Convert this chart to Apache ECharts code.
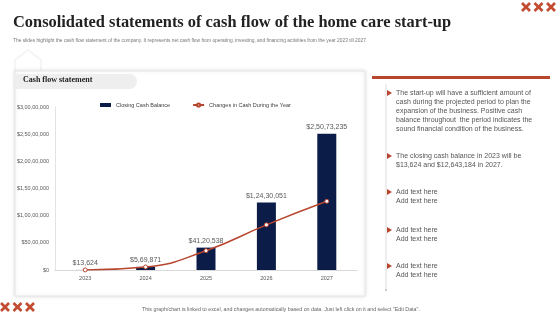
<!DOCTYPE html>
<html>
<head>
<meta charset="utf-8">
<script src="https://cdn.jsdelivr.net/npm/echarts@6/dist/echarts.min.js"></script>
<style>
  html, body { margin: 0; padding: 0; background: #fff; }
  #chart { width: 560px; height: 315px; }
</style>
</head>
<body>
<div id="chart"></div>
<script>
// chart data
const years = ['2023', '2024', '2025', '2026', '2027']
const closingBalance = [13624, 569871, 4120538, 12430051, 25073235]
const changesInCash = [13624, 556247, 3550667, 8309513, 12643184]

const bullets = [
  ['The start-up will have a sufficient amount of', 'cash during the projected period to plan the', 'expansion of the business. Positive cash', 'balance throughout  the period indicates the', 'sound financial condition of the business.'],
  ['The closing cash balance in 2023 will be', '$13,624 and $12,643,184 in 2027.'],
  ['Add text here', 'Add text here'],
  ['Add text here', 'Add text here'],
  ['Add text here', 'Add text here']
]
const bulletTops = [93, 156, 192, 230, 266]

const red = '#b8452e'
const navy = '#0b1c48'

// indian style grouping: 2,50,73,235
function inr(v) {
  const s = String(Math.round(v))
  if (s.length <= 3) return '$' + s
  const last = s.slice(-3)
  let rest = s.slice(0, -3)
  const parts = []
  while (rest.length > 2) {
    parts.unshift(rest.slice(-2))
    rest = rest.slice(0, -2)
  }
  if (rest) parts.unshift(rest)
  return '$' + parts.join(',') + ',' + last
}

// three red crosses, drawn as strokes
function crosses(x, y) {
  const out = []
  for (let i = 0; i < 3; i++) {
    const cx = x + i * 12.5
    const s = 4
    out.push(
      { type: 'line', shape: { x1: cx - s, y1: y - s, x2: cx + s, y2: y + s }, style: { stroke: '#c24b31', lineWidth: 2.6 } },
      { type: 'line', shape: { x1: cx - s, y1: y + s, x2: cx + s, y2: y - s }, style: { stroke: '#c24b31', lineWidth: 2.6 } }
    )
  }
  return out
}

const graphics = [
  // faint house outline behind the tab
  {
    type: 'polyline', shape: { points: [[15, 72], [15, 60], [28, 50], [41, 60], [41, 72]] },
    style: { stroke: '#f5f5f5', lineWidth: 2, fill: 'none' }, z: -20
  },
  // chart panel
  {
    type: 'rect', shape: { x: 15, y: 71, width: 350, height: 225 },
    style: { fill: '#fff', stroke: '#e6e6e6', lineWidth: 1, shadowBlur: 4, shadowColor: 'rgba(0,0,0,0.12)' },
    z: -10
  },
  {
    type: 'rect', shape: { x: 15, y: 74, width: 122, height: 15, r: [0, 8, 8, 0] },
    style: { fill: '#eeeeee' }, z: -5
  },
  {
    type: 'text', left: 23, top: 76,
    style: { text: 'Cash flow statement', fill: '#222', font: 'bold 8px "Liberation Serif"' }
  },
  // right panel
  { type: 'rect', shape: { x: 372, y: 76, width: 178, height: 3 }, style: { fill: red } },
  { type: 'line', shape: { x1: 386, y1: 84, x2: 386, y2: 290 }, style: { stroke: '#dcdcdc', lineWidth: 1 } },
  { type: 'circle', shape: { cx: 386, cy: 290, r: 1.2 }, style: { fill: '#cfcfcf' } },
  // footer
  {
    type: 'text', left: 142, top: 307,
    style: { text: 'This graph/chart is linked to excel, and changes automatically based on data. Just left click on it and select "Edit Data".', fill: '#666', font: '5.3px "Liberation Sans"' }
  }
]

bullets.forEach((lines, i) => {
  const y = bulletTops[i]
  graphics.push({
    type: 'polygon', shape: { points: [[387, y - 3], [392, y], [387, y + 3]] },
    style: { fill: red }
  })
  graphics.push({
    type: 'text', left: 396, top: y - 4,
    style: { text: lines.join('\n'), fill: '#555', font: '7px "Liberation Sans"', lineHeight: 9 }
  })
})

graphics.push(...crosses(526, 7), ...crosses(5, 307))

const chart = echarts.init(document.getElementById('chart'))
chart.setOption({
  animation: false,
  backgroundColor: '#fff',
  title: {
    text: 'Consolidated statements of cash flow of the home care start-up',
    subtext: 'The slides highlight the cash flow statement of the company. It represents net cash flow from operating, investing, and financing activities from the year 2023 till 2027.',
    left: 8, top: 10, itemGap: 7,
    textStyle: { fontFamily: 'Liberation Serif', fontWeight: 'bold', fontSize: 16.4, color: '#222' },
    subtextStyle: { fontFamily: 'Liberation Sans', fontSize: 4.85, color: '#777' }
  },
  legend: {
    top: 97, left: 95, itemGap: 22, itemWidth: 11, itemHeight: 4,
    textStyle: { fontFamily: 'Liberation Sans', fontSize: 5.5, color: '#404040' },
    data: [
      { name: 'Closing Cash Balance', icon: 'rect' },
      { name: 'Changes in Cash During the Year' }
    ]
  },
  grid: { left: 55, right: 203, top: 107, bottom: 45, containLabel: false },
  xAxis: {
    type: 'category', data: years,
    axisLine: { lineStyle: { color: '#d9d9d9' } },
    axisTick: { show: false },
    axisLabel: { fontFamily: 'Liberation Sans', fontSize: 5.5, color: '#595959', margin: 5 }
  },
  yAxis: {
    type: 'value', min: 0, max: 30000000, interval: 5000000,
    axisLine: { show: true, lineStyle: { color: '#e3e3e3' } },
    splitLine: { show: false },
    axisLabel: { fontFamily: 'Liberation Sans', fontSize: 5.5, color: '#595959', margin: 6, formatter: v => inr(v) }
  },
  graphic: graphics,
  series: [
    {
      name: 'Closing Cash Balance', type: 'bar', data: closingBalance, barWidth: 19,
      itemStyle: { color: navy },
      label: {
        show: true, position: 'top', distance: 3,
        fontFamily: 'Liberation Sans', fontSize: 7, color: '#595959',
        formatter: p => inr(p.value)
      }
    },
    {
      name: 'Changes in Cash During the Year', type: 'line', data: changesInCash, smooth: true,
      symbol: 'circle', symbolSize: 4, showAllSymbol: true,
      lineStyle: { color: red, width: 1.5 },
      itemStyle: { color: '#fff', borderColor: red, borderWidth: 1 },
      z: 5
    }
  ]
})
</script>
</body>
</html>
